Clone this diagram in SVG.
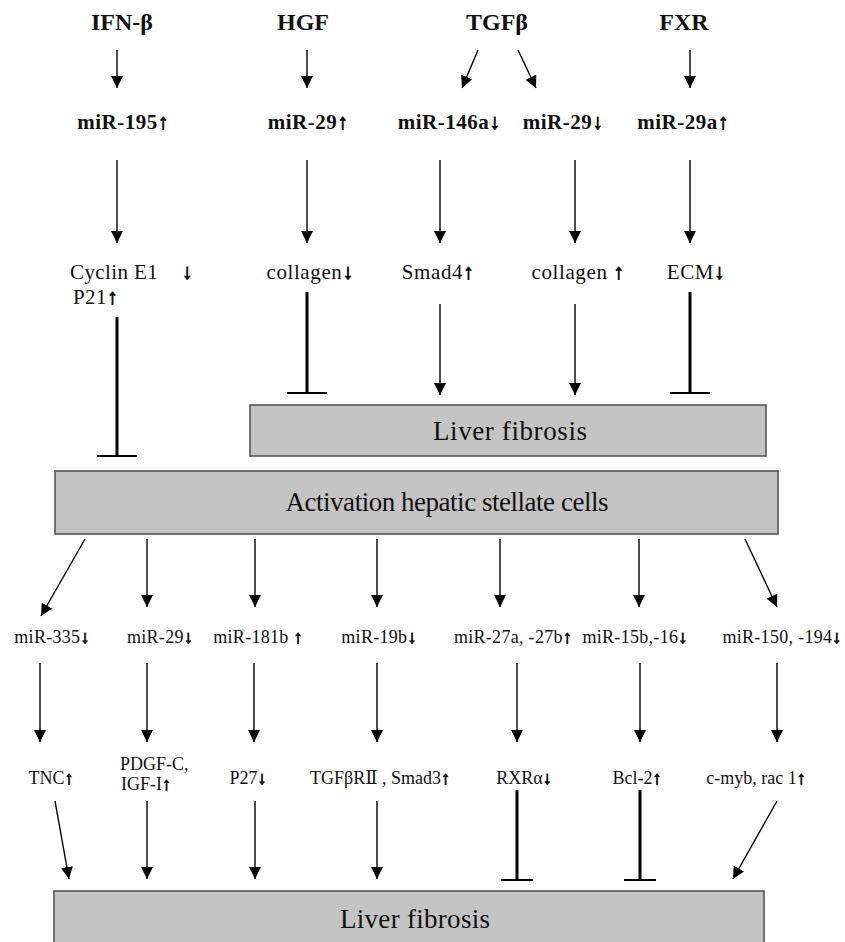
<svg xmlns="http://www.w3.org/2000/svg" width="845" height="942" viewBox="0 0 845 942">
<style>
text{font-family:"Liberation Serif","DejaVu Serif",serif;fill:#111;}
.ar{font-family:"Liberation Sans","DejaVu Sans",sans-serif;font-weight:bold;stroke:#111;stroke-width:0.9px;}
.t1{font-size:24px;font-weight:bold;text-anchor:middle;}
.t2{font-size:21px;font-weight:bold;text-anchor:middle;letter-spacing:0.5px;}
.t3{font-size:21px;letter-spacing:0.4px;}
.t3m{font-size:21px;text-anchor:middle;letter-spacing:0.6px;}
.t4{font-size:18px;text-anchor:middle;letter-spacing:0.3px;}
.t5{font-size:18px;text-anchor:middle;}
.t5s{font-size:18px;}
.tb{font-size:27px;text-anchor:middle;}
.box{fill:#c4c4c4;stroke:#555;stroke-width:1.6;}
.ln{stroke:#000;stroke-width:1.4;fill:none;marker-end:url(#ah);}
.th{stroke:#000;stroke-width:3;fill:none;}
.bar{stroke:#000;stroke-width:2;fill:none;}
</style>
<defs>
<marker id="ah" markerUnits="userSpaceOnUse" viewBox="0 0 12 12" refX="12" refY="6" markerWidth="12" markerHeight="12" orient="auto">
<path d="M0,0 L12,6 L0,12 Z" fill="#000"/>
</marker>
</defs>
<rect width="845" height="942" fill="#fff"/>

<g id="n-ifnb"><text class="t1" x="122" y="30">IFN-β</text></g>
<g id="n-hgf"><text class="t1" x="303" y="30">HGF</text></g>
<g id="n-tgfb"><text class="t1" x="497" y="30">TGFβ</text></g>
<g id="n-fxr"><text class="t1" x="684" y="30">FXR</text></g>

<g id="n-mir195"><text class="t2" x="123" y="129">miR-195<tspan class="ar">↑</tspan></text></g>
<g id="n-mir29up"><text class="t2" x="308" y="129">miR-29<tspan class="ar">↑</tspan></text></g>
<g id="n-mir146a"><text class="t2" x="449" y="129">miR-146a<tspan class="ar">↓</tspan></text></g>
<g id="n-mir29down"><text class="t2" x="563" y="129">miR-29<tspan class="ar">↓</tspan></text></g>
<g id="n-mir29a"><text class="t2" x="683" y="129">miR-29a<tspan class="ar">↑</tspan></text></g>

<g id="n-cyclin"><text class="t3" x="70" y="279">Cyclin E1 <tspan class="ar" dx="18">↓</tspan></text><text class="t3" x="73" y="304">P21<tspan class="ar">↑</tspan></text></g>
<g id="n-collagen1"><text class="t3m" x="310" y="279">collagen<tspan class="ar">↓</tspan></text></g>
<g id="n-smad4"><text class="t3m" x="438" y="279">Smad4<tspan class="ar">↑</tspan></text></g>
<g id="n-collagen2"><text class="t3m" x="578" y="279">collagen <tspan class="ar">↑</tspan></text></g>
<g id="n-ecm"><text class="t3m" x="696" y="279">ECM<tspan class="ar">↓</tspan></text></g>

<g id="n-liver1"><rect class="box" x="250" y="405" width="516" height="51"/><text class="tb" x="510" y="440" textLength="154" lengthAdjust="spacing">Liver fibrosis</text></g>
<g id="n-hsc"><rect class="box" x="55" y="471" width="723" height="63"/><text class="tb" x="447" y="511" textLength="323" lengthAdjust="spacing">Activation hepatic stellate cells</text></g>

<g id="n-mir335"><text class="t4" x="52" y="643">miR-335<tspan class="ar">↓</tspan></text></g>
<g id="n-mir29b"><text class="t4" x="160" y="643">miR-29<tspan class="ar">↓</tspan></text></g>
<g id="n-mir181b"><text class="t4" x="258" y="643">miR-181b <tspan class="ar">↑</tspan></text></g>
<g id="n-mir19b"><text class="t4" x="379" y="643">miR-19b<tspan class="ar">↓</tspan></text></g>
<g id="n-mir27"><text class="t4" x="513" y="643">miR-27a, -27b<tspan class="ar">↑</tspan></text></g>
<g id="n-mir15b"><text class="t4" x="635" y="643">miR-15b,-16<tspan class="ar">↓</tspan></text></g>
<g id="n-mir150"><text class="t4" x="782" y="643">miR-150, -194<tspan class="ar">↓</tspan></text></g>

<g id="n-tnc"><text class="t5" x="51" y="784">TNC<tspan class="ar">↑</tspan></text></g>
<g id="n-pdgf"><text class="t5s" x="120" y="770">PDGF-C,</text><text class="t5s" x="121" y="790">IGF-I<tspan class="ar">↑</tspan></text></g>
<g id="n-p27"><text class="t5" x="248" y="784">P27<tspan class="ar">↓</tspan></text></g>
<g id="n-tgfbr"><text class="t5" x="380" y="784">TGFβRⅡ , Smad3<tspan class="ar">↑</tspan></text></g>
<g id="n-rxra"><text class="t5" x="524" y="784">RXRα<tspan class="ar">↓</tspan></text></g>
<g id="n-bcl2"><text class="t5" x="637" y="784">Bcl-2<tspan class="ar">↑</tspan></text></g>
<g id="n-cmyb"><text class="t5" x="756" y="784">c-myb, rac 1<tspan class="ar">↑</tspan></text></g>

<g id="n-liver2"><rect class="box" x="54" y="891" width="710" height="60"/><text class="tb" x="415" y="928" textLength="150" lengthAdjust="spacing">Liver fibrosis</text></g>

<g id="connectors">
<line class="ln" x1="117" y1="50" x2="117" y2="88"/>
<line class="ln" x1="307" y1="50" x2="307" y2="88"/>
<line class="ln" x1="478" y1="50" x2="462" y2="88"/>
<line class="ln" x1="518" y1="50" x2="536" y2="88"/>
<line class="ln" x1="690" y1="50" x2="690" y2="88"/>

<line class="ln" x1="117" y1="160" x2="117" y2="243"/>
<line class="ln" x1="307" y1="160" x2="307" y2="243"/>
<line class="ln" x1="440" y1="160" x2="440" y2="243"/>
<line class="ln" x1="575" y1="160" x2="575" y2="243"/>
<line class="ln" x1="690" y1="160" x2="690" y2="243"/>

<line class="th" x1="117" y1="317" x2="117" y2="456"/><line class="bar" x1="97" y1="456" x2="137" y2="456"/>
<line class="th" x1="307" y1="292" x2="307" y2="393"/><line class="bar" x1="287" y1="393" x2="327" y2="393"/>
<line class="ln" x1="440" y1="304" x2="440" y2="395"/>
<line class="ln" x1="575" y1="304" x2="575" y2="395"/>
<line class="th" x1="690" y1="292" x2="690" y2="393"/><line class="bar" x1="670" y1="393" x2="710" y2="393"/>

<line class="ln" x1="85" y1="539" x2="41" y2="616"/>
<line class="ln" x1="147" y1="539" x2="147" y2="607"/>
<line class="ln" x1="255" y1="539" x2="255" y2="607"/>
<line class="ln" x1="377" y1="539" x2="377" y2="607"/>
<line class="ln" x1="500" y1="539" x2="500" y2="607"/>
<line class="ln" x1="639" y1="539" x2="639" y2="607"/>
<line class="ln" x1="745" y1="539" x2="777" y2="607"/>

<line class="ln" x1="40" y1="663" x2="40" y2="742"/>
<line class="ln" x1="147" y1="663" x2="147" y2="742"/>
<line class="ln" x1="254" y1="663" x2="254" y2="742"/>
<line class="ln" x1="377" y1="663" x2="377" y2="742"/>
<line class="ln" x1="517" y1="663" x2="517" y2="742"/>
<line class="ln" x1="640" y1="663" x2="640" y2="742"/>
<line class="ln" x1="777" y1="663" x2="777" y2="742"/>

<line class="ln" x1="55" y1="801" x2="69" y2="879"/>
<line class="ln" x1="147" y1="801" x2="147" y2="879"/>
<line class="ln" x1="255" y1="801" x2="255" y2="879"/>
<line class="ln" x1="377" y1="801" x2="377" y2="879"/>
<line class="th" x1="517" y1="790" x2="517" y2="880"/><line class="bar" x1="501" y1="880" x2="533" y2="880"/>
<line class="th" x1="640" y1="790" x2="640" y2="880"/><line class="bar" x1="624" y1="880" x2="656" y2="880"/>
<line class="ln" x1="777" y1="801" x2="733" y2="879"/>
</g>
</svg>
